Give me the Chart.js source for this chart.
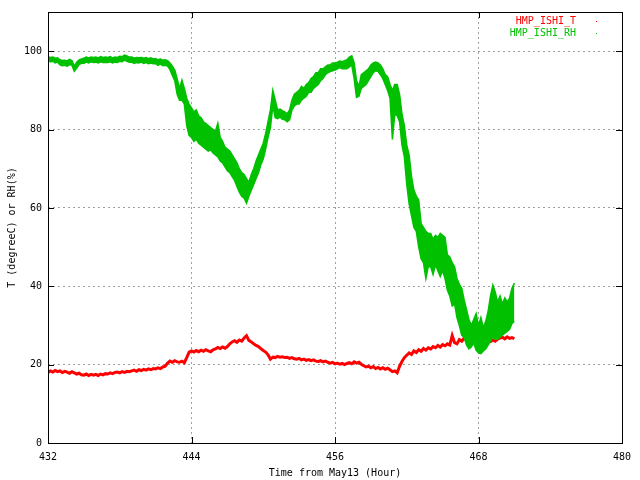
<!DOCTYPE html>
<html>
<head>
<meta charset="utf-8">
<script src="https://cdn.jsdelivr.net/npm/chart.js@4/dist/chart.umd.min.js"></script>
<style>
  html, body { margin: 0; padding: 0; background: #fff; }
  #wrap { width: 640px; height: 480px; }
</style>
</head>
<body>
<div id="wrap"><canvas id="myChartLine" width="640" height="480"></canvas></div>
<script>
// Samples every 0.2 h starting at hour 432
const startHour = 432;
const stepHour = 0.2;

const seriesNames = ["HMP_ISHI_T", "HMP_ISHI_RH"];
const seriesColors = ["#ff0000", "#00c000"];

// RH (%) - the trace is very noisy, so keep its upper and lower edge
const rhHigh = [
  98.6, 98.4, 98.5, 98.2, 98.3,
  97.8, 97.6, 97.7, 97.5, 97.9,
  97.6, 96.2, 97.2, 97.8, 98.0,
  98.2, 98.5, 98.3, 98.5, 98.4,
  98.5, 98.3, 98.6, 98.4, 98.5,
  98.4, 98.6, 98.3, 98.5, 98.4,
  98.7, 98.6, 99.0, 98.8, 98.5,
  98.5, 98.2, 98.4, 98.3, 98.4,
  98.2, 98.4, 98.1, 98.3, 98.0,
  98.1, 97.8, 98.0, 97.7, 97.8,
  97.6, 97.0, 96.2, 95.2, 93.0,
  90.5, 92.6, 90.5, 88.0, 86.5,
  85.5, 84.5, 85.0, 83.5, 83.0,
  82.0, 81.5, 81.0, 80.5, 80.0,
  79.5, 81.6, 78.0, 77.0, 75.5,
  75.0, 74.5, 73.5, 72.5, 71.5,
  70.0, 69.0, 68.5, 67.5, 66.5,
  68.5, 70.0, 72.0, 73.5, 75.0,
  76.5, 79.0, 82.0, 85.0, 90.0,
  87.5, 85.0, 85.2, 84.8, 84.5,
  84.0, 85.0, 87.5, 89.0, 89.5,
  90.0, 91.0, 90.5, 91.5, 92.0,
  93.0, 93.5, 94.5, 94.5, 95.5,
  95.5, 96.0, 96.5, 96.5, 97.0,
  97.0, 97.2, 97.5, 97.3, 97.6,
  97.8, 98.5, 98.8, 97.0, 92.5,
  91.0, 94.0, 94.5, 95.0, 95.5,
  96.5, 97.0, 97.2, 97.0, 96.5,
  95.5, 94.0, 93.5, 91.5, 90.0,
  91.5, 91.5, 89.0, 84.0, 81.0,
  76.0, 73.5, 68.0, 64.5, 63.0,
  62.0, 56.0, 55.0, 54.0, 53.5,
  53.5, 52.0, 53.0, 52.5, 53.5,
  53.0, 52.5, 48.0, 47.5, 46.0,
  45.0, 42.0, 40.5, 39.5, 36.5,
  34.0, 31.5, 30.0, 31.5, 33.0,
  30.0, 32.0, 29.5, 31.0, 33.5,
  37.5, 40.3, 38.5, 36.0, 37.5,
  35.5, 37.0, 36.0, 37.0, 39.5,
  40.8
];

const rhLow = [
  97.5, 97.3, 97.4, 97.0, 97.2,
  96.5, 96.3, 96.4, 96.2, 96.6,
  96.4, 94.9, 95.7, 96.6, 96.9,
  96.9, 97.2, 97.0, 97.3, 97.1,
  97.2, 97.0, 97.3, 97.1, 97.2,
  97.1, 97.3, 97.0, 97.2, 97.1,
  97.4, 97.3, 97.7, 97.4, 97.2,
  97.2, 96.9, 97.1, 97.0, 97.2,
  96.9, 97.1, 96.8, 97.0, 96.8,
  96.8, 96.4, 96.7, 96.3, 96.4,
  96.2, 95.3, 93.8, 92.5, 89.0,
  87.5, 87.5, 86.5, 81.0, 78.5,
  78.0, 77.0, 77.5, 76.5, 76.0,
  75.5, 75.0, 74.5, 74.8, 74.0,
  73.5, 73.0, 72.0, 71.5, 70.5,
  69.5, 69.0, 68.0, 67.0, 65.5,
  64.0, 63.0, 62.5, 61.2, 63.0,
  64.5, 66.0, 67.5, 69.0, 71.0,
  72.5, 75.0, 78.0, 80.5, 86.0,
  83.0, 82.8, 83.2, 82.6, 82.5,
  82.0, 82.5, 85.0, 86.0, 86.5,
  86.5, 87.5, 88.0, 88.5, 89.5,
  89.5, 90.5, 91.0, 91.5, 92.5,
  93.0, 94.0, 94.5, 94.8, 95.0,
  95.2, 95.5, 95.8, 95.5, 95.6,
  95.5, 96.0, 96.5, 93.0, 88.2,
  88.5, 90.5, 91.0, 91.5, 92.5,
  93.5, 94.5, 95.0, 94.8, 94.0,
  93.0, 91.5, 90.0, 88.0, 77.5,
  84.0, 83.5, 82.0, 76.0, 73.0,
  66.0, 61.0, 58.0, 55.0, 54.0,
  50.0, 47.0, 46.0, 42.0, 45.0,
  45.0, 43.0, 45.5, 44.0, 42.5,
  44.0, 42.0, 39.0, 37.5, 35.0,
  35.5, 32.0, 30.0, 27.5, 27.0,
  25.0, 24.0, 24.5, 25.5, 23.7,
  23.0, 22.8, 23.5, 24.0, 25.0,
  26.0, 27.0, 26.5, 26.5, 27.0,
  27.5, 28.0, 28.5, 29.0, 30.5,
  31.0
];

// Temperature (degreeC)
const tValues = [
  18.0, 18.4, 18.1, 18.5, 18.2,
  18.4, 18.0, 18.3, 18.1, 17.8,
  18.2, 17.9, 17.6, 17.8, 17.4,
  17.3, 17.6, 17.2, 17.5, 17.3,
  17.5, 17.2, 17.6, 17.4, 17.7,
  17.6, 17.9, 17.7, 18.0, 18.1,
  17.9, 18.2, 18.0, 18.3, 18.2,
  18.4, 18.6, 18.3, 18.7, 18.5,
  18.8, 18.6, 18.9, 18.7, 19.0,
  18.9, 19.2, 19.0, 19.4, 19.6,
  20.4, 20.9, 20.6, 21.0, 20.7,
  20.6, 20.9, 20.5, 21.8, 23.2,
  23.5, 23.2, 23.6, 23.3, 23.7,
  23.4, 23.8, 23.5, 23.3, 23.8,
  24.0, 24.4, 24.1, 24.5, 24.2,
  24.6, 25.3, 25.8, 26.1, 25.7,
  26.3, 26.0, 26.8, 27.4, 26.2,
  25.8, 25.3, 24.9, 24.6, 24.1,
  23.6, 23.2, 22.5, 21.4, 21.9,
  21.8, 22.1, 21.9, 22.0, 21.8,
  21.9, 21.6, 21.8, 21.5, 21.4,
  21.6, 21.2, 21.4, 21.1, 21.3,
  21.0, 21.2, 20.9, 20.8, 21.0,
  20.7, 20.9, 20.6, 20.4, 20.6,
  20.2, 20.4, 20.1, 20.3, 20.0,
  20.3, 20.5, 20.2, 20.7, 20.4,
  20.6, 20.1, 19.7, 19.4, 19.6,
  19.2, 19.5, 19.0, 19.3, 18.9,
  19.2, 18.8, 19.1, 18.7, 18.2,
  18.4, 17.9, 19.6, 20.8, 21.8,
  22.4, 23.0, 22.6, 23.5, 23.1,
  23.8, 23.4, 24.1, 23.7, 24.3,
  24.0, 24.6, 24.3, 24.9, 24.5,
  25.1, 24.8, 25.3, 25.0, 27.4,
  25.6, 25.3, 26.4, 26.0, 26.8,
  26.2, 26.6, 25.7, 26.3, 25.4,
  26.0, 25.6, 26.2, 25.8, 26.1,
  25.9, 26.3, 26.0, 26.5, 26.8,
  27.0, 26.6, 27.1, 26.7, 26.9,
  26.6
];

const hours = tValues.map((_, i) => +(startHour + i * stepHour).toFixed(1));

const xTitle = "Time from May13 (Hour)";
const yTitle = "T (degreeC) or RH(%)";

const FONT = "10px 'DejaVu Sans Mono'";

// gnuplot-like frame, inward ticks, axis titles and key
const frame = {
  id: "frame",
  afterDraw(chart) {
    const ctx = chart.ctx;
    const a = chart.chartArea;
    const xs = chart.scales.x, ys = chart.scales.y;
    ctx.save();
    ctx.strokeStyle = "#000";
    ctx.lineWidth = 1;
    ctx.strokeRect(a.left + 0.5, a.top + 0.5, a.right - a.left, a.bottom - a.top);
    ctx.beginPath();
    ys.ticks.forEach(t => {
      const py = Math.round(ys.getPixelForValue(t.value)) + 0.5;
      ctx.moveTo(a.left, py); ctx.lineTo(a.left + 6, py);
      ctx.moveTo(a.right, py); ctx.lineTo(a.right - 6, py);
    });
    xs.ticks.forEach(t => {
      const px = Math.round(xs.getPixelForValue(t.value)) + 0.5;
      ctx.moveTo(px, a.bottom); ctx.lineTo(px, a.bottom - 6);
      ctx.moveTo(px, a.top); ctx.lineTo(px, a.top + 6);
    });
    ctx.stroke();

    ctx.font = FONT;
    ctx.fillStyle = "#000";
    ctx.textAlign = "center";
    ctx.textBaseline = "middle";
    ctx.fillText(xTitle, (a.left + a.right) / 2, 473);
    ctx.save();
    ctx.translate(12, (a.top + a.bottom) / 2);
    ctx.rotate(-Math.PI / 2);
    ctx.fillText(yTitle, 0, 0);
    ctx.restore();

    // key
    ctx.textAlign = "right";
    seriesNames.forEach((name, i) => {
      const ky = 21 + i * 12;
      ctx.fillStyle = seriesColors[i];
      ctx.fillText(name, 576, ky);
      ctx.fillRect(596, ky, 1, 1);
    });
    ctx.restore();
  }
};

const canvas_line = document.getElementById("myChartLine");
let myChart_line = new Chart(canvas_line, {
  type: "line",
  data: {
    labels: hours,
    datasets: [
      {
        label: seriesNames[0],
        data: tValues,
        borderColor: seriesColors[0],
        borderWidth: 3,
        pointRadius: 0,
        order: 2,
      },
      {
        label: seriesNames[1],
        data: rhHigh,
        borderColor: seriesColors[1],
        backgroundColor: seriesColors[1],
        borderWidth: 1.5,
        pointRadius: 0,
        fill: "+1",
        order: 0,
      },
      {
        label: seriesNames[1] + " low",
        data: rhLow,
        borderColor: seriesColors[1],
        borderWidth: 1.5,
        pointRadius: 0,
        fill: false,
        order: 1,
      },
    ],
  },
  options: {
    responsive: false,
    animation: false,
    events: [],
    layout: { padding: { top: 12, right: 18, left: 0, bottom: 0 } },
    plugins: { legend: { display: false }, tooltip: { enabled: false } },
    scales: {
      x: {
        type: "linear",
        min: 432,
        max: 480,
        ticks: { stepSize: 12, color: "#000", font: { family: "DejaVu Sans Mono", size: 10 }, padding: 8, maxRotation: 0 },
        grid: { color: "#a0a0a0", drawTicks: false },
        border: { display: false, dash: [2, 3] },
        afterFit(scale) { scale.height = 37; },
      },
      y: {
        min: 0,
        max: 110,
        ticks: { stepSize: 20, color: "#000", font: { family: "DejaVu Sans Mono", size: 10 }, padding: 6 },
        afterBuildTicks(scale) { scale.ticks = scale.ticks.filter(t => t.value <= 100); },
        grid: { color: "#a0a0a0", drawTicks: false },
        border: { display: false, dash: [2, 3] },
        afterFit(scale) { scale.width = 48; },
      },
    },
  },
  plugins: [frame],
});
</script>
</body>
</html>
